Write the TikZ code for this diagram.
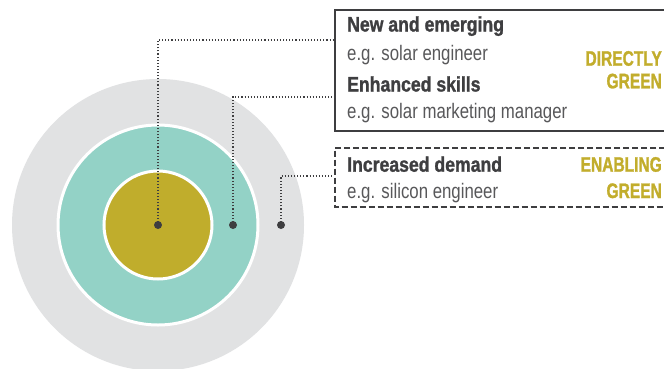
\documentclass[tikz,border=0pt]{standalone}
\usepackage{fontspec}
\setmainfont{Liberation Sans}
\newfontfamily\condreg[FakeStretch=0.80]{Liberation Sans}
\newfontfamily\condbold[FakeStretch=0.84,FakeBold=1.2]{Liberation Sans Bold}
\newfontfamily\capsbold[FakeStretch=0.74,FakeBold=1.2]{Liberation Sans Bold}
\definecolor{ringgray}{HTML}{E1E2E3}
\definecolor{ringteal}{HTML}{93D2C6}
\definecolor{ringolive}{HTML}{C0AD2C}
\definecolor{inkdark}{HTML}{3E3E40}
\definecolor{inkgray}{HTML}{58585A}
\definecolor{labelolive}{HTML}{C2AD2C}
\tikzset{
  ring/.style={draw=white, line width=3pt},
  pin/.style={circle, fill=inkdark, inner sep=0pt, minimum size=8pt},
  leader/.style={draw=inkdark, line width=1.1pt, dash pattern=on 1.1pt off 2pt},
  head/.style={anchor=base west, inner sep=0pt, text=inkdark, font=\condbold\fontsize{21}{23}\selectfont},
  sub/.style={anchor=base west, inner sep=0pt, text=inkgray, font=\condreg\fontsize{21}{23}\selectfont},
  tag/.style={anchor=base east, inner sep=0pt, text=labelolive, font=\capsbold\fontsize{21}{23}\selectfont},
  solidbox/.style={draw=inkdark, line width=2pt},
  dashbox/.style={draw=inkdark, line width=2pt, dash pattern=on 6pt off 3pt}
}
\begin{document}
\begin{tikzpicture}[x=1pt, y=-1pt]
  \useasboundingbox (0,0) rectangle (664,368);
  \fill[white] (0,0) rectangle (664,368);

  % concentric rings
  \begin{scope}
    \clip (0,0) rectangle (664,368);
    \fill[ringgray] (158,225) circle[radius=146];
    \filldraw[ring, fill=ringteal] (158,225) circle[radius=100];
    \filldraw[ring, fill=ringolive] (158,225) circle[radius=54];
  \end{scope}

  % framing boxes
  \draw[solidbox] (665,10) -- (335,10) -- (335,131) -- (665,131);
  \draw[dashbox] (665,147.5) -- (335,147.5) -- (335,207) -- (665,207);

  % ring markers
  \node[pin] (p1) at (158,225) {};
  \node[pin] (p2) at (233,225) {};
  \node[pin] (p3) at (281,225) {};

  % leader end points on the boxes
  \coordinate (b1) at (334,40);
  \coordinate (b2) at (334,97);
  \coordinate (b3) at (334,176);

  \draw[leader] (p1.center) |- (b1);
  \draw[leader] (p2.center) |- (b2);
  \draw[leader] (p3.center) |- (b3);

  % first box
  \node[head] (t1) at (347,31.5) {New and emerging};
  \node[sub]  (s1) at (347,60) {e.g. solar engineer};
  \node[head] (t2) at (347,91.5) {Enhanced skills};
  \node[sub]  (s2) at (347,118.5) {e.g. solar marketing manager};
  \node[tag]  (g1) at (662,65.7) {DIRECTLY};
  \node[tag]  (g2) at (662,88.3) {GREEN};

  % second box
  \node[head] (t3) at (347,171.7) {Increased demand};
  \node[sub]  (s3) at (347,198) {e.g. silicon engineer};
  \node[tag]  (g3) at (662,171.7) {ENABLING};
  \node[tag]  (g4) at (662,198) {GREEN};
\end{tikzpicture}
\end{document}
